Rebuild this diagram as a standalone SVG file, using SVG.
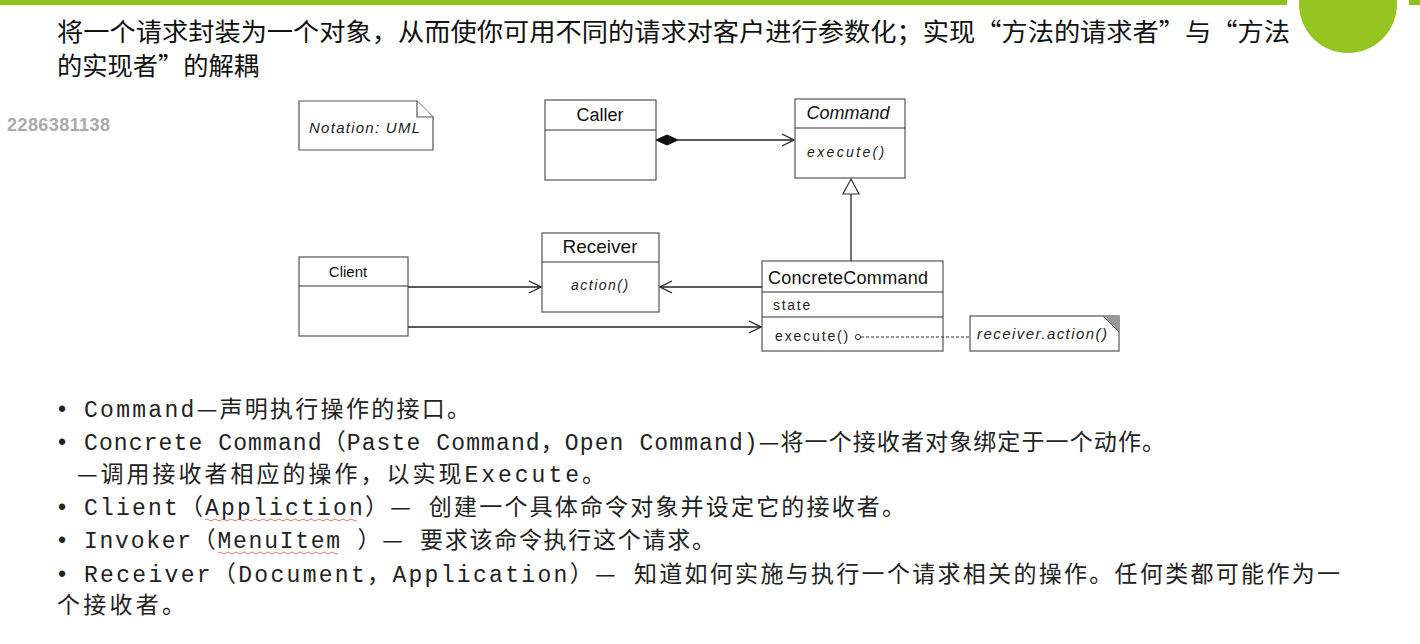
<svg xmlns="http://www.w3.org/2000/svg" width="1420" height="644" viewBox="0 0 1420 644">
<defs>
<style>
.title{font-family:"Noto Sans CJK SC","Noto Sans",sans-serif;font-size:25px;fill:#111}
.bul{font-family:"Liberation Mono","Noto Sans CJK SC",monospace;font-size:23px;fill:#222}
.cjk{font-family:"Noto Sans CJK SC",sans-serif}
.box{fill:#fff;stroke:#555;stroke-width:1.2}
.div{stroke:#333;stroke-width:1.2}
.cn{font-family:"Liberation Sans",Arial,sans-serif;font-size:18px;fill:#111}
.op{font-family:"Liberation Sans",Arial,sans-serif;font-size:14px;fill:#222;letter-spacing:1.8px}
.nt{font-family:"Liberation Sans",Arial,sans-serif;font-size:15px;fill:#222;font-style:italic}
.it{font-style:italic}
.ln{stroke:#222;stroke-width:1.3;fill:none}
.wavy{stroke:#e05050;stroke-width:0.8;fill:none}
</style>
<marker id="open" viewBox="0 0 14 14" refX="13" refY="7" markerWidth="14" markerHeight="14" markerUnits="userSpaceOnUse" orient="auto">
<path d="M1,1 L13,7 L1,13" fill="none" stroke="#222" stroke-width="1.3"/>
</marker>
</defs>
<rect width="1420" height="644" fill="#fff"/>
<!-- top bar -->
<rect x="0" y="0" width="1287" height="5" fill="#8dc21f"/>
<rect x="1409" y="0" width="11" height="5" fill="#8dc21f"/>
<circle cx="1348" cy="4" r="49" fill="#95c520"/>
<!-- title -->
<text class="title" x="57" y="41" textLength="1233" lengthAdjust="spacingAndGlyphs">将一个请求封装为一个对象，从而使你可用不同的请求对客户进行参数化；实现“方法的请求者”与“方法</text>
<text class="title" x="57" y="75" textLength="202" lengthAdjust="spacingAndGlyphs">的实现者”的解耦</text>
<text x="7" y="131" font-family="Liberation Sans,Arial,sans-serif" font-size="18" font-weight="bold" fill="#aaa" textLength="103">2286381138</text>
<!-- notation note -->
<g id="note-notation">
<path class="box" d="M299,101 L417,101 L433,117 L433,150 L299,150 Z"/>
<path class="box" d="M417,101 L417,117 L433,117" fill="none"/>
<text class="nt" x="309" y="133" textLength="111">Notation: UML</text>
</g>
<g id="caller">
<rect class="box" x="545" y="100" width="111" height="80"/>
<line class="div" x1="545" y1="130" x2="656" y2="130"/>
<text class="cn" x="600" y="121" text-anchor="middle">Caller</text>
</g>
<g id="command">
<rect class="box" x="795" y="99" width="110" height="79"/>
<line class="div" x1="795" y1="128" x2="905" y2="128"/>
<text class="cn it" x="848" y="119" text-anchor="middle">Command</text>
<text class="op it" x="807" y="157" textLength="79">execute()</text>
</g>
<g id="receiver">
<rect class="box" x="542" y="233" width="117" height="79"/>
<line class="div" x1="542" y1="262" x2="659" y2="262"/>
<text class="cn" x="600" y="253" text-anchor="middle" style="font-size:19px">Receiver</text>
<text class="op it" x="571" y="290" textLength="59">action()</text>
</g>
<g id="client">
<rect class="box" x="299" y="257" width="109" height="79"/>
<line class="div" x1="299" y1="286" x2="408" y2="286"/>
<text class="cn" x="348" y="277" text-anchor="middle" style="font-size:15px">Client</text>
</g>
<g id="concretecommand">
<rect class="box" x="762" y="261" width="181" height="90"/>
<line class="div" x1="762" y1="292" x2="943" y2="292"/>
<line class="div" x1="762" y1="317" x2="943" y2="317"/>
<text class="cn" x="768" y="284" textLength="160">ConcreteCommand</text>
<text class="op" x="773" y="310" textLength="39">state</text>
<text class="op" x="775" y="341" textLength="75">execute()</text>
</g>
<g id="note-action">
<rect class="box" x="970" y="316" width="149" height="35"/>
<path d="M1103,316 L1119,316 L1119,332 Z" fill="#999"/>
<path d="M1103,316 L1119,332" stroke="#555" stroke-width="1"/>
<text class="nt" x="977" y="339" textLength="130">receiver.action()</text>
</g>
<!-- connectors -->
<g id="connectors">
<path class="ln" d="M678,140 L794,140" marker-end="url(#open)"/>
<path d="M656,140 L667,135 L678,140 L667,145 Z" fill="#111" stroke="#111"/>
<path class="ln" d="M851,261 L851,194"/>
<path d="M851,179 L843,194 L859,194 Z" fill="#fff" stroke="#333" stroke-width="1.2"/>
<path class="ln" d="M408,287 L541,287" marker-end="url(#open)"/>
<path class="ln" d="M762,287 L660,287" marker-end="url(#open)"/>
<path class="ln" d="M408,327 L761,327" marker-end="url(#open)"/>
<circle cx="858" cy="337" r="2.6" fill="#fff" stroke="#333" stroke-width="1"/>
<path d="M861,337 L970,337" stroke="#333" stroke-width="1" stroke-dasharray="3,2" fill="none"/>
</g>
<!-- bullets -->
<g id="bullets">
<text class="bul" x="58" y="417"><tspan font-family="Liberation Sans">•</tspan><tspan x="84" textLength="386">Command<tspan class="cjk">—</tspan>声明执行操作的接口。</tspan></text>
<text class="bul" x="58" y="450"><tspan font-family="Liberation Sans">•</tspan><tspan x="84" textLength="1081">Concrete Command（Paste Command，Open Command)<tspan class="cjk">—</tspan>将一个接收者对象绑定于一个动作。</tspan></text>
<text class="bul" x="77" y="482" textLength="528"><tspan class="cjk">—</tspan>调用接收者相应的操作，以实现Execute。</text>
<text class="bul" x="58" y="515"><tspan font-family="Liberation Sans">•</tspan><tspan x="84" textLength="821">Client（Appliction）<tspan class="cjk">—</tspan> 创建一个具体命令对象并设定它的接收者。</tspan></text>
<text class="bul" x="58" y="548"><tspan font-family="Liberation Sans">•</tspan><tspan x="84" textLength="631">Invoker（MenuItem ）<tspan class="cjk">—</tspan> 要求该命令执行这个请求。</tspan></text>
<text class="bul" x="58" y="582"><tspan font-family="Liberation Sans">•</tspan><tspan x="84" textLength="1256">Receiver（Document，Application）<tspan class="cjk">—</tspan> 知道如何实施与执行一个请求相关的操作。任何类都可能作为一</tspan></text>
<text class="bul" x="57" y="613" textLength="128">个接收者。</text>
<path class="wavy" d="M205,520 q2,-2 4,0 t4,0 t4,0 t4,0 t4,0 t4,0 t4,0 t4,0 t4,0 t4,0 t4,0 t4,0 t4,0 t4,0 t4,0 t4,0 t4,0 t4,0 t4,0 t4,0 t4,0 t4,0 t4,0 t4,0 t4,0 t4,0 t4,0 t4,0 t4,0 t4,0 t4,0 t4,0 t4,0 t4,0 t4,0 t4,0 t4,0 t4,0"/>
<path class="wavy" d="M218,553 q2,-2 4,0 t4,0 t4,0 t4,0 t4,0 t4,0 t4,0 t4,0 t4,0 t4,0 t4,0 t4,0 t4,0 t4,0 t4,0 t4,0 t4,0 t4,0 t4,0 t4,0 t4,0 t4,0 t4,0 t4,0 t4,0 t4,0 t4,0 t4,0 t4,0 t4,0"/>
</g>
</svg>
